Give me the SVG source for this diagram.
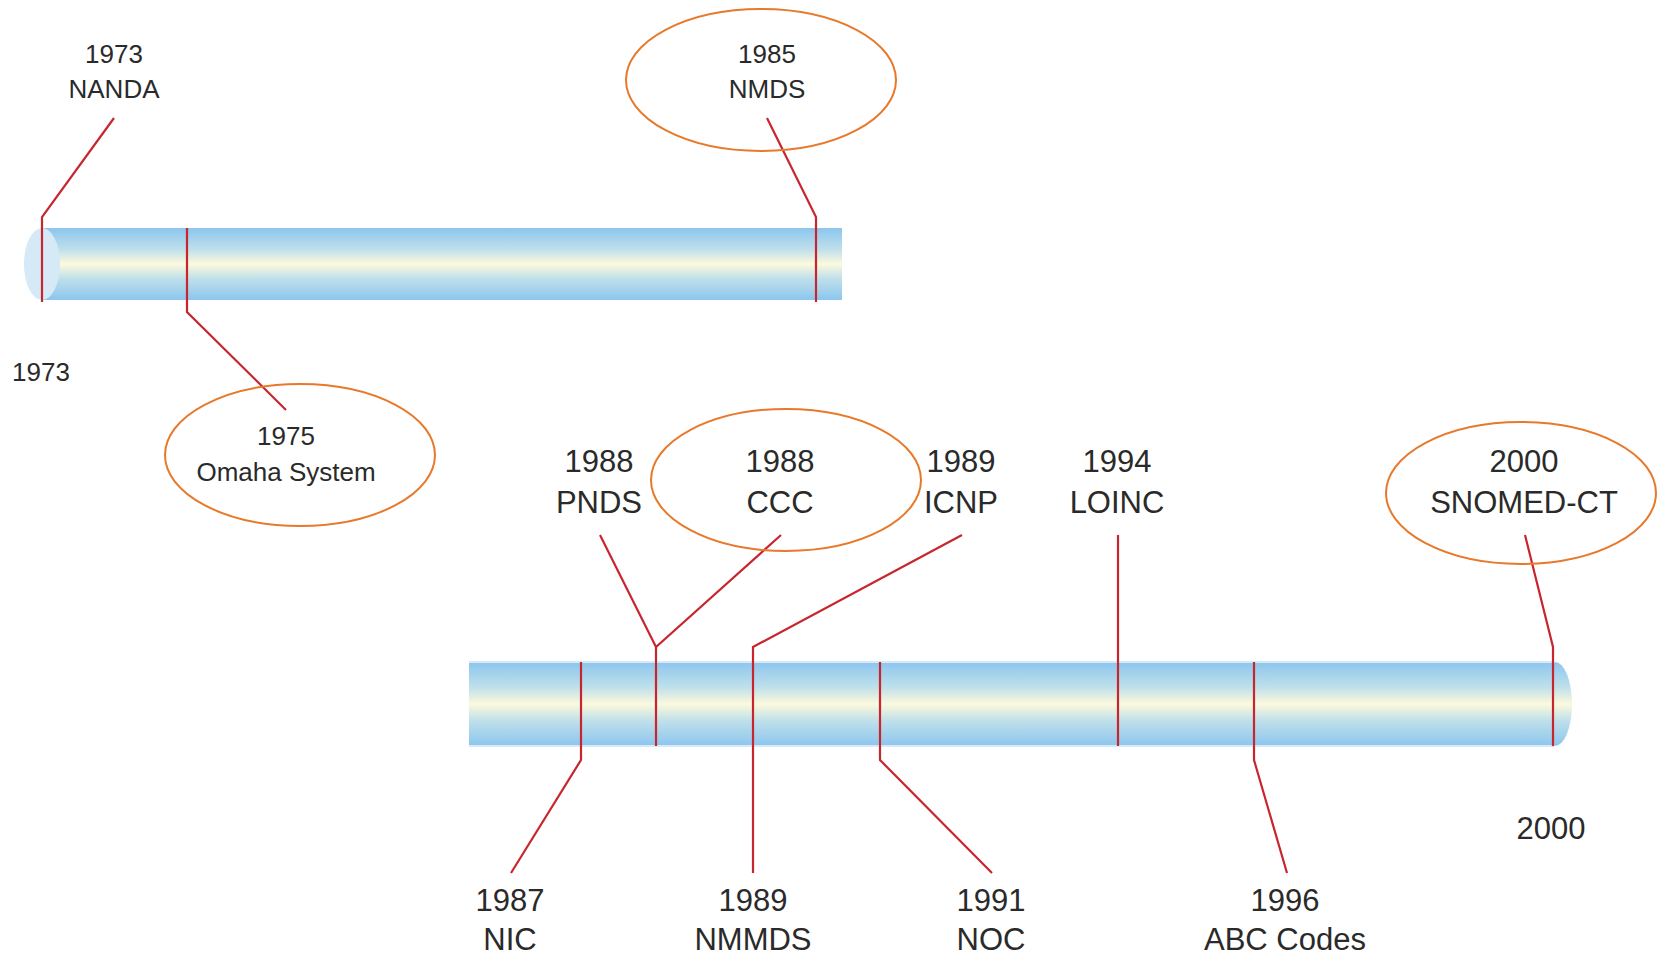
<svg xmlns="http://www.w3.org/2000/svg" width="1659" height="955" viewBox="0 0 1659 955">
  <defs>
    <linearGradient id="tube" x1="0" y1="0" x2="0" y2="1">
      <stop offset="0" stop-color="#8CC5EE"/>
      <stop offset="0.3" stop-color="#BFE0EA"/>
      <stop offset="0.5" stop-color="#FCF9DD"/>
      <stop offset="0.7" stop-color="#BFE0EA"/>
      <stop offset="1" stop-color="#8CC5EE"/>
    </linearGradient>
  </defs>
  <style>
    .bar { fill: url(#tube); }
    .edge { stroke: #D6EBF9; stroke-width: 2; }
    .ring { fill: none; stroke: #E8792B; stroke-width: 2; }
    .lead { fill: none; stroke: #C8262E; stroke-width: 2.2; stroke-linejoin: miter; }
    .t { font-family: "Liberation Sans", Arial, sans-serif; fill: #2A2A2A; text-anchor: middle; }
    .s { font-size: 26px; }
    .l { font-size: 31px; }
  </style>
  <rect width="1659" height="955" fill="#FFFFFF"/>

  <!-- timeline 1973 to 1985 -->
  <g id="timeline-top">
    <rect class="bar" x="42" y="228" width="800" height="72"/>
    <ellipse cx="42" cy="264" rx="18" ry="36" fill="#D5E9F7"/>
  </g>

  <!-- timeline 1987 to 2000 -->
  <g id="timeline-bottom">
    <path class="bar" d="M469 662 H1555 A17 42 0 0 1 1555 746 H469 Z"/>
    <line class="edge" x1="469" y1="662" x2="1555" y2="662"/>
    <line class="edge" x1="469" y1="746" x2="1555" y2="746"/>
  </g>

  <!-- leader lines from each event to the timelines -->
  <g id="connectors">
    <polyline class="lead" points="114,118 42,217 42,302"/>
    <polyline class="lead" points="187,228 187,312 286,410"/>
    <polyline class="lead" points="767,118 816,217 816,302"/>
    <polyline class="lead" points="581,662 581,760 511,873"/>
    <polyline class="lead" points="600,535 656,647 781,535"/>
    <line class="lead" x1="656" y1="647" x2="656" y2="746"/>
    <polyline class="lead" points="962,535 753,647 753,873"/>
    <polyline class="lead" points="880,662 880,760 992,873"/>
    <line class="lead" x1="1118" y1="535" x2="1118" y2="746"/>
    <polyline class="lead" points="1254,662 1254,760 1287,873"/>
    <polyline class="lead" points="1525,535 1553,647 1553,746"/>
  </g>

  <!-- axis end labels -->
  <g id="axis-1973"><text class="t s" x="41" y="381">1973</text></g>
  <g id="axis-2000"><text class="t l" x="1551" y="839">2000</text></g>

  <!-- events -->
  <g id="nanda">
    <text class="t s" x="114" y="63">1973</text>
    <text class="t s" x="114" y="98">NANDA</text>
  </g>
  <g id="nmds">
    <ellipse class="ring" cx="761" cy="80" rx="135" ry="71"/>
    <text class="t s" x="767" y="63">1985</text>
    <text class="t s" x="767" y="98">NMDS</text>
  </g>
  <g id="omaha">
    <ellipse class="ring" cx="300" cy="455" rx="135" ry="71"/>
    <text class="t s" x="286" y="445">1975</text>
    <text class="t s" x="286" y="481">Omaha System</text>
  </g>
  <g id="pnds">
    <text class="t l" x="599" y="472">1988</text>
    <text class="t l" x="599" y="513">PNDS</text>
  </g>
  <g id="ccc">
    <ellipse class="ring" cx="786" cy="480" rx="135" ry="71"/>
    <text class="t l" x="780" y="472">1988</text>
    <text class="t l" x="780" y="513">CCC</text>
  </g>
  <g id="icnp">
    <text class="t l" x="961" y="472">1989</text>
    <text class="t l" x="961" y="513">ICNP</text>
  </g>
  <g id="loinc">
    <text class="t l" x="1117" y="472">1994</text>
    <text class="t l" x="1117" y="513">LOINC</text>
  </g>
  <g id="snomed">
    <ellipse class="ring" cx="1521" cy="493" rx="135" ry="71"/>
    <text class="t l" x="1524" y="472">2000</text>
    <text class="t l" x="1524" y="513">SNOMED-CT</text>
  </g>
  <g id="nic">
    <text class="t l" x="510" y="911">1987</text>
    <text class="t l" x="510" y="950">NIC</text>
  </g>
  <g id="nmmds">
    <text class="t l" x="753" y="911">1989</text>
    <text class="t l" x="753" y="950">NMMDS</text>
  </g>
  <g id="noc">
    <text class="t l" x="991" y="911">1991</text>
    <text class="t l" x="991" y="950">NOC</text>
  </g>
  <g id="abc">
    <text class="t l" x="1285" y="911">1996</text>
    <text class="t l" x="1285" y="950">ABC Codes</text>
  </g>
</svg>
